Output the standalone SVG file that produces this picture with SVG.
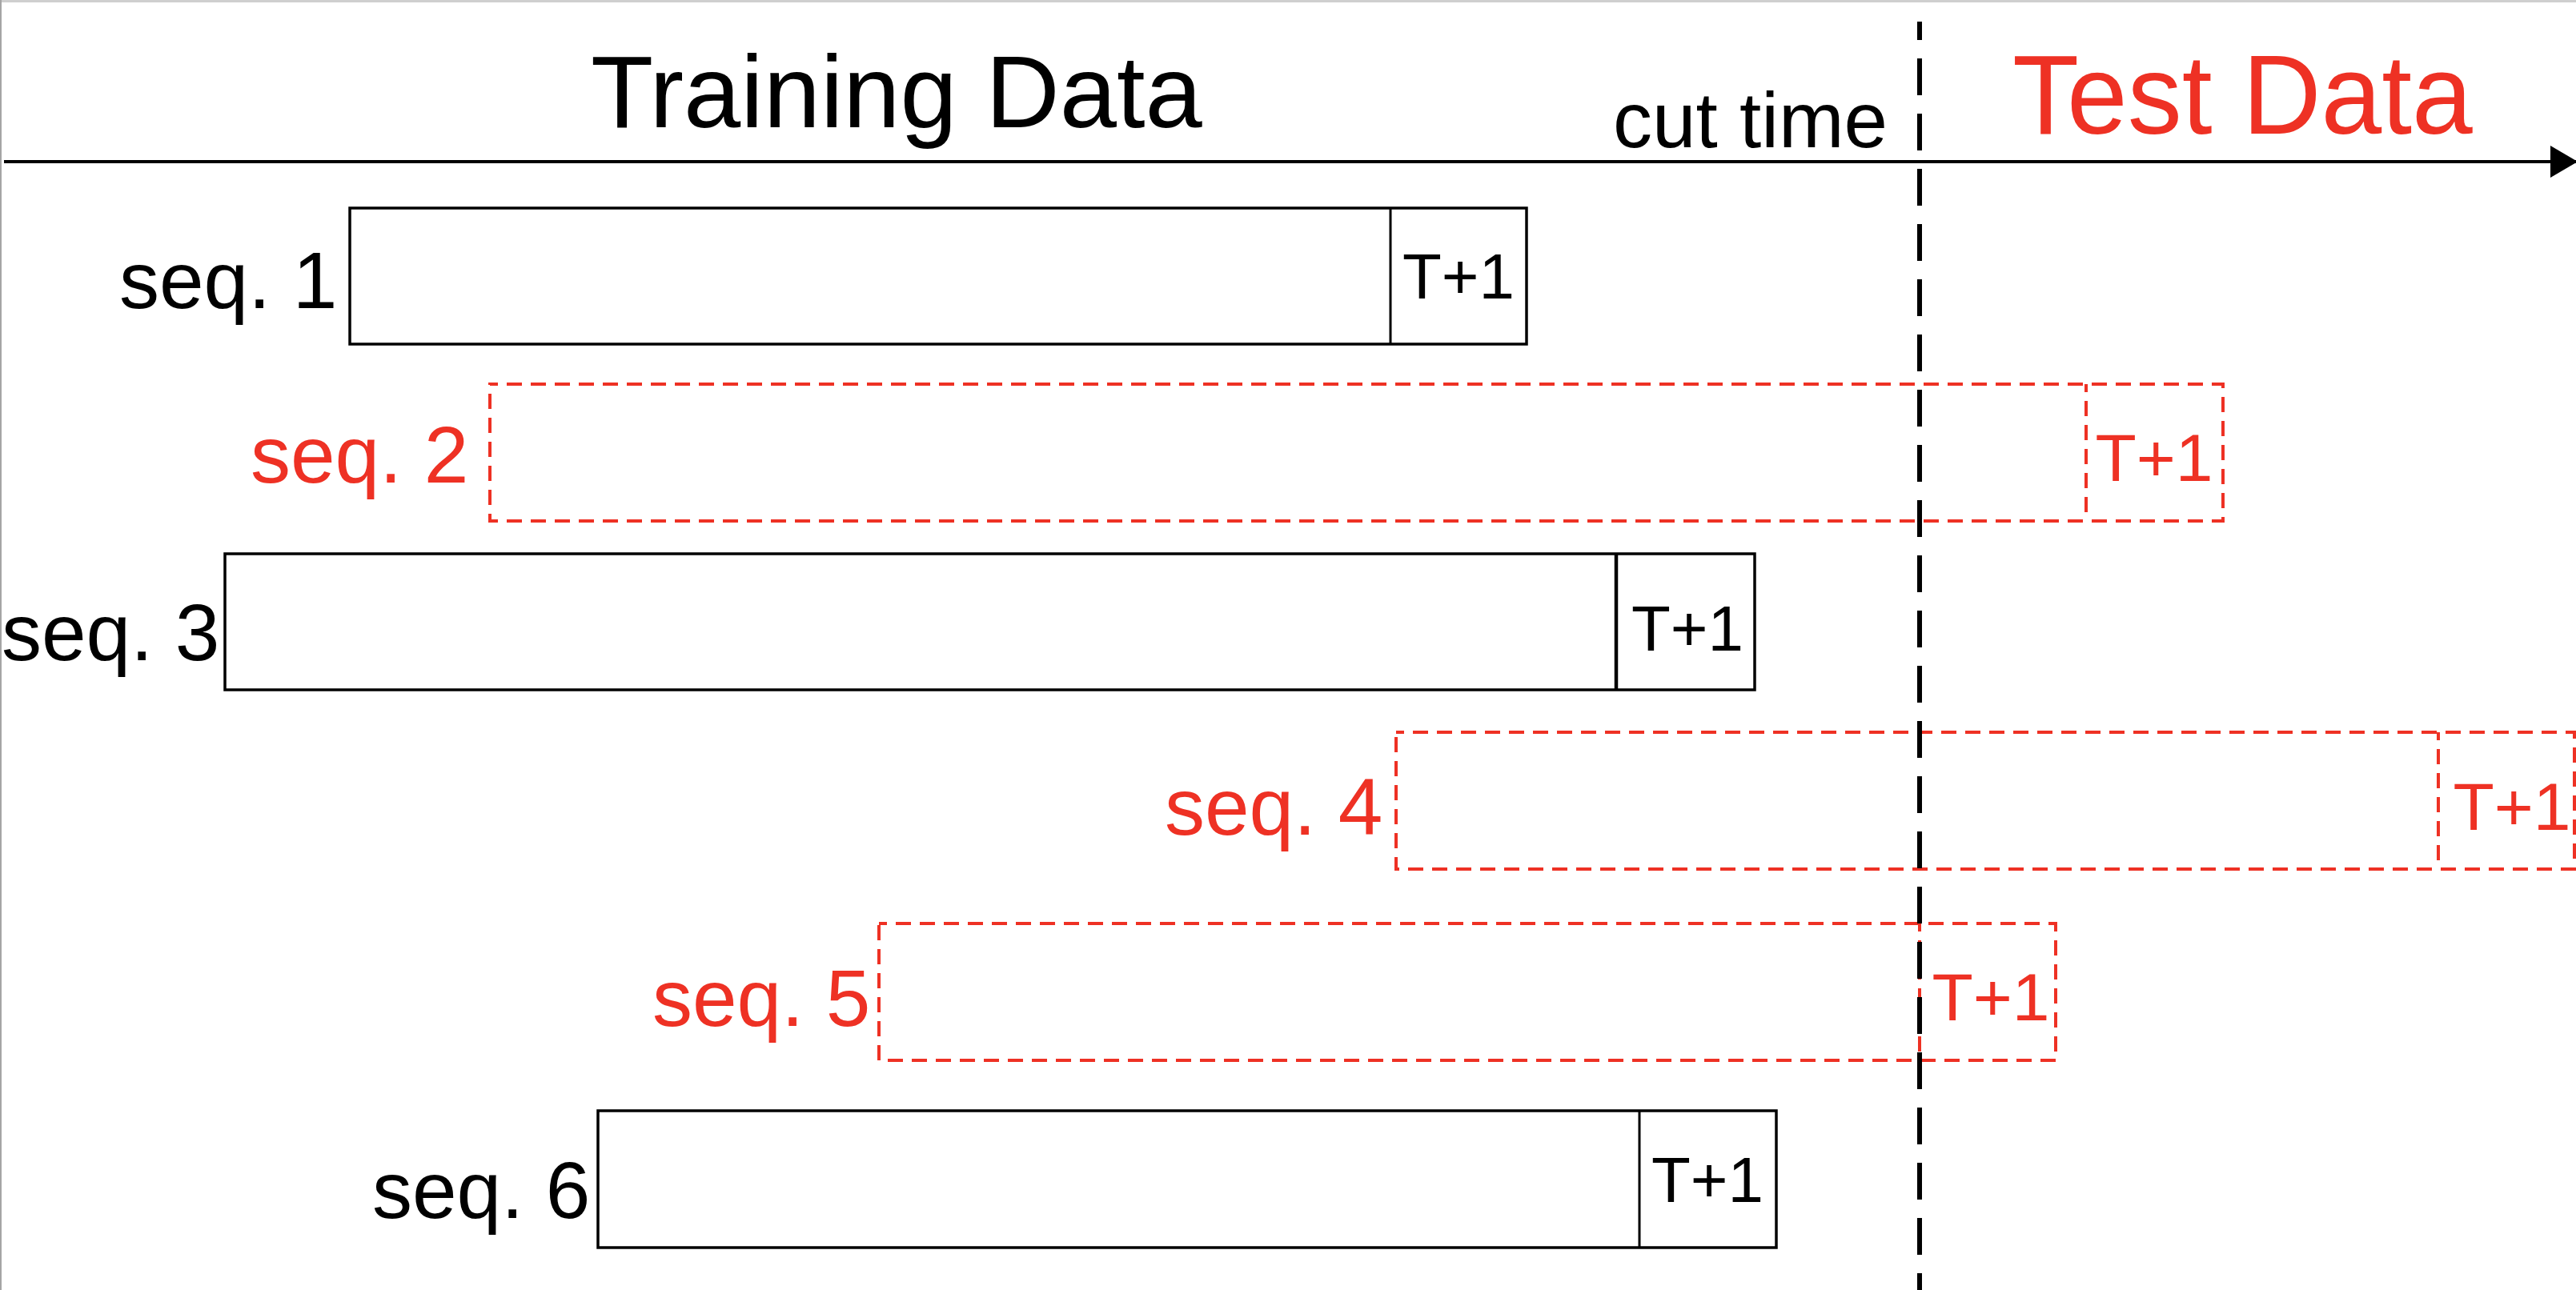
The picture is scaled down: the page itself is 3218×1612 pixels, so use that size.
<svg xmlns="http://www.w3.org/2000/svg" width="3218" height="1612" viewBox="0 0 3218 1612">
  <defs>
    <style>
      text { font-family: "Liberation Sans", Arial, Helvetica, sans-serif; }
      .lbl { font-size: 100px; }
      .blk { fill: #000000; }
      .red { fill: #ee3124; }
      .box { fill: none; stroke: #000000; stroke-width: 3.5; }
      .dbox { fill: none; stroke: #ee3124; stroke-width: 4; stroke-dasharray: 19 11; stroke-dashoffset: 9; }
      .tb { font-size: 80px; text-anchor: middle; fill: #000000; }
      .tr { font-size: 84px; text-anchor: middle; fill: #ee3124; }
    </style>
    <marker id="arrow" markerUnits="userSpaceOnUse" markerWidth="36" markerHeight="42" refX="34" refY="20" orient="auto" viewBox="0 0 36 42">
      <path d="M0,0 L34,20 L0,40 Z" fill="#000000"/>
    </marker>
  </defs>

  <rect x="0" y="0" width="3218" height="1612" fill="#ffffff"/>
  <rect x="0" y="0" width="3218" height="3" fill="#cfcfcf"/>
  <rect x="0" y="0" width="2" height="1612" fill="#a5a5a5"/>

  <g id="title-training">
    <text x="738" y="159" font-size="128" class="blk">Training Data</text>
  </g>
  <g id="title-cut">
    <text x="2015" y="184" font-size="98" class="blk">cut time</text>
  </g>
  <g id="title-test">
    <text transform="translate(2514,167) scale(0.965,1)" x="0" y="0" font-size="141" class="red">Test Data</text>
  </g>

  <g id="seq1">
    <rect class="box" x="437" y="260" width="1470" height="170"/>
    <line x1="1737" y1="260" x2="1737" y2="430" stroke="#000" stroke-width="3"/>
    <text class="lbl blk" x="149" y="385">seq. 1</text>
    <text class="tb" x="1822" y="373">T+1</text>
  </g>

  <g id="seq2">
    <rect class="dbox" x="612" y="480" width="2165" height="171"/>
    <line class="dbox" x1="2606" y1="480" x2="2606" y2="651"/>
    <text class="lbl red" x="313" y="603">seq. 2</text>
    <text class="tr" x="2691" y="601">T+1</text>
  </g>

  <g id="seq3">
    <rect class="box" x="281" y="692" width="1911" height="170"/>
    <line x1="2019" y1="692" x2="2019" y2="862" stroke="#000" stroke-width="4.5"/>
    <text class="lbl blk" x="2" y="825">seq. 3</text>
    <text class="tb" x="2108" y="813">T+1</text>
  </g>

  <g id="seq4">
    <rect class="dbox" x="1744" y="915" width="1472" height="171"/>
    <line class="dbox" x1="3046" y1="915" x2="3046" y2="1086"/>
    <text class="lbl red" x="1455" y="1043">seq. 4</text>
    <text class="tr" x="3138" y="1037">T+1</text>
  </g>

  <g id="seq5">
    <rect class="dbox" x="1098" y="1154" width="1470" height="171"/>
    <line class="dbox" x1="2398" y1="1154" x2="2398" y2="1325"/>
    <text class="lbl red" x="815" y="1282">seq. 5</text>
    <text class="tr" x="2487" y="1275">T+1</text>
  </g>

  <g id="seq6">
    <rect class="box" x="747" y="1388" width="1472" height="171"/>
    <line x1="2048" y1="1388" x2="2048" y2="1559" stroke="#000" stroke-width="3"/>
    <text class="lbl blk" x="465" y="1522">seq. 6</text>
    <text class="tb" x="2133" y="1502">T+1</text>
  </g>

  <g id="connectors">
    <line id="time-axis" x1="5" y1="202" x2="3220" y2="202" stroke="#000" stroke-width="4" marker-end="url(#arrow)"/>
    <line id="cut-line" x1="2398" y1="27" x2="2398" y2="1612" stroke="#000" stroke-width="6" stroke-dasharray="46 23" stroke-dashoffset="23"/>
  </g>
</svg>
